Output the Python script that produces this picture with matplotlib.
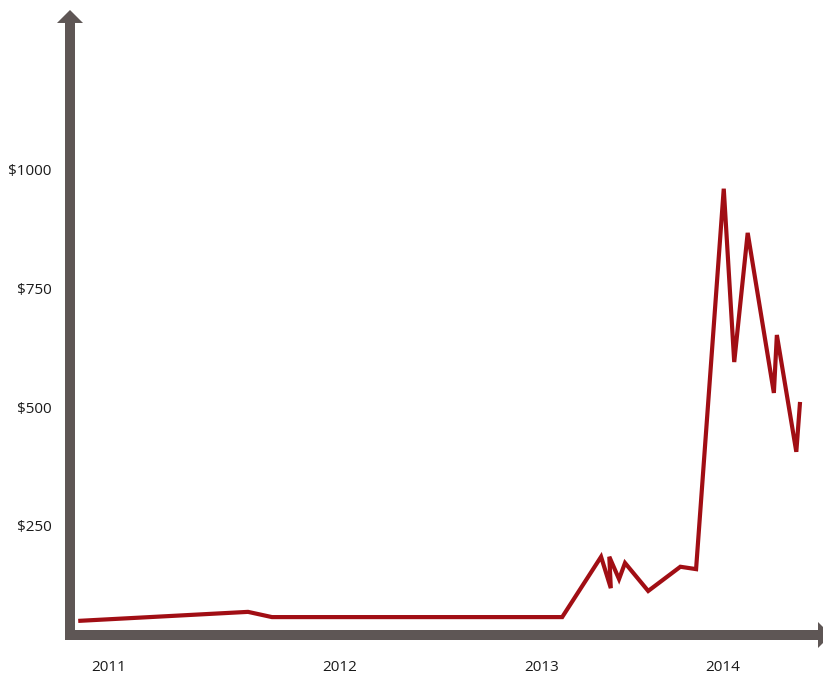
import matplotlib
matplotlib.use("Agg")
import matplotlib.pyplot as plt
from matplotlib.patches import Polygon

# ---- data ----
# x: position along the time axis (0..100), y: price in $
x_pos = [1.1, 23.8, 27.0, 65.8, 71.0, 72.3, 72.1, 73.4, 74.2, 77.3,
         81.6, 83.7, 87.4, 88.8, 90.6, 94.1, 94.5, 97.1, 97.6]
price = [50, 69, 58, 58, 185, 119, 185, 138, 172, 113,
         164, 159, 960, 595, 867, 530, 652, 406, 511]

year_pos = [5.2, 36.0, 63.0, 87.2]
year_labels = ["2011", "2012", "2013", "2014"]

price_ticks = [250, 500, 750, 1000]
price_labels = ["$250", "$500", "$750", "$1000"]

axis_col = "#5e5655"
line_col = "#a10e14"

plt.rcParams['font.family'] = ['Open Sans', 'DejaVu Sans']
plt.rcParams['font.size'] = 11

fig = plt.figure(figsize=(8.23, 6.78), dpi=100)
ax = fig.add_axes([70/823, 43/678, 748/823, 613/678])

ax.plot(x_pos, price, color=line_col, lw=3.0,
        solid_joinstyle='miter', solid_capstyle='butt')

ax.set_xlim(0, 100)
ax.set_ylim(20.3, 1311)

ax.set_xticks(year_pos)
ax.set_xticklabels(year_labels)
ax.set_yticks(price_ticks)
ax.set_yticklabels(price_labels)
ax.tick_params(axis='x', length=0, pad=18, colors='#1a1a1a')
ax.tick_params(axis='y', length=0, pad=13.5, colors='#1a1a1a')

for s in ['top', 'right']:
    ax.spines[s].set_visible(False)
for s in ['left', 'bottom']:
    ax.spines[s].set_color(axis_col)
    ax.spines[s].set_linewidth(7.2)
    ax.spines[s].set_capstyle('projecting')

# arrow heads (axes fraction)
up = Polygon([(-0.0174, 0.9984), (0.0174, 0.9984), (0.0, 1.0196)],
             closed=True, transform=ax.transAxes, clip_on=False,
             color=axis_col, lw=0, zorder=5)
right = Polygon([(1.0, -0.0212), (1.0, 0.0212), (1.0174, 0.0)],
                closed=True, transform=ax.transAxes, clip_on=False,
                color=axis_col, lw=0, zorder=5)
ax.add_patch(up)
ax.add_patch(right)

plt.savefig("out.png", dpi=100)
